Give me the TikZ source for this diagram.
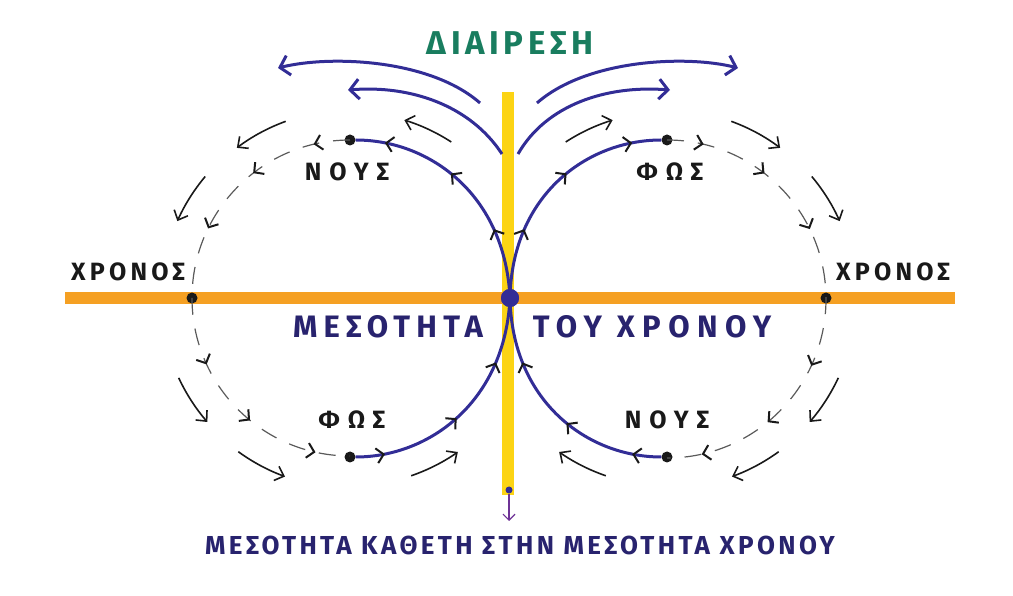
\documentclass[tikz,border=0pt]{standalone}
\usepackage{fontspec}
\usepackage{xcolor}
\usepackage{tikz}
\usetikzlibrary{arrows.meta,decorations.markings}
\newfontfamily\archaic{Fira Sans}
\definecolor{timebar}{RGB}{245,160,35}
\definecolor{cutbar}{RGB}{252,212,20}
\definecolor{flowblue}{RGB}{50,45,150}
\definecolor{navytext}{RGB}{40,35,110}
\definecolor{greentext}{RGB}{25,125,95}
\definecolor{inkgray}{RGB}{90,90,90}
\definecolor{pointerviolet}{RGB}{110,50,150}
\tikzset{
  dot/.style={circle,fill=black!90,inner sep=0pt,minimum size=11pt},
  bigdot/.style={circle,fill=flowblue,inner sep=0pt,minimum size=18pt},
  tinydot/.style={circle,fill=flowblue,inner sep=0pt,minimum size=7pt},
  flow/.style={line width=3pt,flowblue},
  bigflow/.style={line width=3pt,flowblue,-{Straight Barb[length=9pt,width=20pt]}},
  cyclearc/.style={line width=1.2pt,inkgray,dash pattern=on 17pt off 14pt},
  outerarrow/.style={line width=1.6pt,black!90,-{Straight Barb[length=8pt,width=15pt]}},
  tipat/.style={postaction={decorate,decoration={markings,
    mark=at position #1 with {\arrow[black!90]{Straight Barb[length=7pt,width=15pt,line width=2pt]}}}}},
  word/.style={font=\archaic\bfseries\fontsize{25}{25}\selectfont\addfontfeatures{LetterSpace=#1},text=black!90},
  word/.default=17,
  bigword/.style={font=\archaic\bfseries\fontsize{31}{31}\selectfont\addfontfeatures{LetterSpace=#1},text=navytext},
  title/.style={font=\archaic\bfseries\fontsize{33}{33}\selectfont\addfontfeatures{LetterSpace=14},text=greentext},
  caption/.style={font=\archaic\bfseries\fontsize{26}{26}\selectfont\addfontfeatures{LetterSpace=13},text=navytext}
}

\begin{document}
\begin{tikzpicture}[x=1pt,y=1pt]
  \useasboundingbox (0,0) rectangle (1013,595);
  % the two bars
  \draw[cutbar,line width=12pt] (508,100) -- (508,503);
  \draw[timebar,line width=12pt] (65,297) -- (955,297);

  \coordinate (lc) at (350,297);
  \coordinate (rc) at (667,297);
  \node[bigdot] (centre) at (510,297) {};
  \node[dot] (chronosL) at (192,297) {};
  \node[dot] (chronosR) at (826,297) {};
  \node[dot] (nousTL) at (350,455) {};
  \node[dot] (fosTR) at (667,455) {};
  \node[dot] (fosBL) at (350,138) {};
  \node[dot] (nousBR) at (667,138) {};

  % dashed half circles
  \draw[cyclearc,tipat=0.074,tipat=0.21,tipat=0.355,tipat=0.638,tipat=0.782,tipat=0.93]
    (nousTL.center) arc[start angle=90,end angle=270,radius=158];
  \draw[cyclearc,tipat=0.074,tipat=0.21,tipat=0.355,tipat=0.638,tipat=0.782,tipat=0.93]
    (fosTR.center) arc[start angle=90,end angle=-90,radius=159];

  % outer arrows, left turns anticlockwise, right clockwise
  \draw[outerarrow] (lc) ++(57:186) arc[start angle=57,end angle=73,radius=186];
  \draw[outerarrow] (lc) ++(110:188) arc[start angle=110,end angle=127,radius=188];
  \draw[outerarrow] (lc) ++(140:189) arc[start angle=140,end angle=156,radius=189];
  \draw[outerarrow] (lc) ++(205:189) arc[start angle=205,end angle=221,radius=189];
  \draw[outerarrow] (lc) ++(234:190) arc[start angle=234,end angle=250,radius=190];
  \draw[outerarrow] (lc) ++(289:188) arc[start angle=289,end angle=305,radius=188];
  \draw[outerarrow] (rc) ++(123:186) arc[start angle=123,end angle=107,radius=186];
  \draw[outerarrow] (rc) ++(70:188) arc[start angle=70,end angle=53,radius=188];
  \draw[outerarrow] (rc) ++(40:189) arc[start angle=40,end angle=24,radius=189];
  \draw[outerarrow] (rc) ++(335:189) arc[start angle=335,end angle=319,radius=189];
  \draw[outerarrow] (rc) ++(306:190) arc[start angle=306,end angle=290,radius=190];
  \draw[outerarrow] (rc) ++(251:188) arc[start angle=251,end angle=235,radius=188];

  % blue flow through the centre
  \draw[flow,tipat=0.29,tipat=0.58,tipat=0.88] (centre.center) .. controls (505,400) and (430,455) .. (nousTL);
  \draw[flow,tipat=0.29,tipat=0.58,tipat=0.88] (centre.center) .. controls (512,400) and (587,455) .. (fosTR);
  \draw[flow,tipat=0.12,tipat=0.45,tipat=0.73] (fosBL) .. controls (430,138) and (505,194) .. (centre.center);
  \draw[flow,tipat=0.12,tipat=0.42,tipat=0.73] (nousBR) .. controls (587,138) and (512,194) .. (centre.center);
  \node[bigdot] at (centre) {};

  % the split at the top
  \coordinate (s1) at (480,492);  \coordinate (e1) at (278,527);
  \coordinate (s2) at (502,441);  \coordinate (e2) at (348,505);
  \coordinate (s3) at (518,441);  \coordinate (e3) at (670,505);
  \coordinate (s4) at (537,492);  \coordinate (e4) at (738,527);
  \draw[bigflow] (s1) .. controls (430,536) and (330,540) .. (e1);
  \draw[bigflow] (s2) .. controls (470,490) and (410,510) .. (e2);
  \draw[bigflow] (s3) .. controls (546,490) and (606,510) .. (e3);
  \draw[bigflow] (s4) .. controls (587,536) and (687,540) .. (e4);

  % foot of the vertical bar
  \node[tinydot] (foot) at (509,105) {};
  \coordinate (footend) at (509,74);
  \draw[pointerviolet,line width=1.2pt,-{Straight Barb[length=6pt,width=12pt]}] (foot) -- (footend);

  % labels
  \node[title] (cut) at (510,552) {ΔΙΑΙΡΕΣΗ};
  \node[bigword=20] (mes) at (388,268) {ΜΕΣΟΤΗΤΑ};
  \node[bigword=24] (tou) at (652,268) {ΤΟΥ ΧΡΟΝΟΥ};
  \node[word] (chrL) at (128,323) {ΧΡΟΝΟΣ};
  \node[word] (chrR) at (893,323) {ΧΡΟΝΟΣ};
  \node[word=32] (nousA) at (347,423) {ΝΟΥΣ};
  \node[word=32] (fosA) at (670,423) {ΦΩΣ};
  \node[word=32] (fosB) at (352,175) {ΦΩΣ};
  \node[word=32] (nousB) at (667,175) {ΝΟΥΣ};
  \node[caption] (foottext) at (520,50) {ΜΕΣΟΤΗΤΑ ΚΑΘΕΤΗ ΣΤΗΝ ΜΕΣΟΤΗΤΑ ΧΡΟΝΟΥ};
\end{tikzpicture}
\end{document}
